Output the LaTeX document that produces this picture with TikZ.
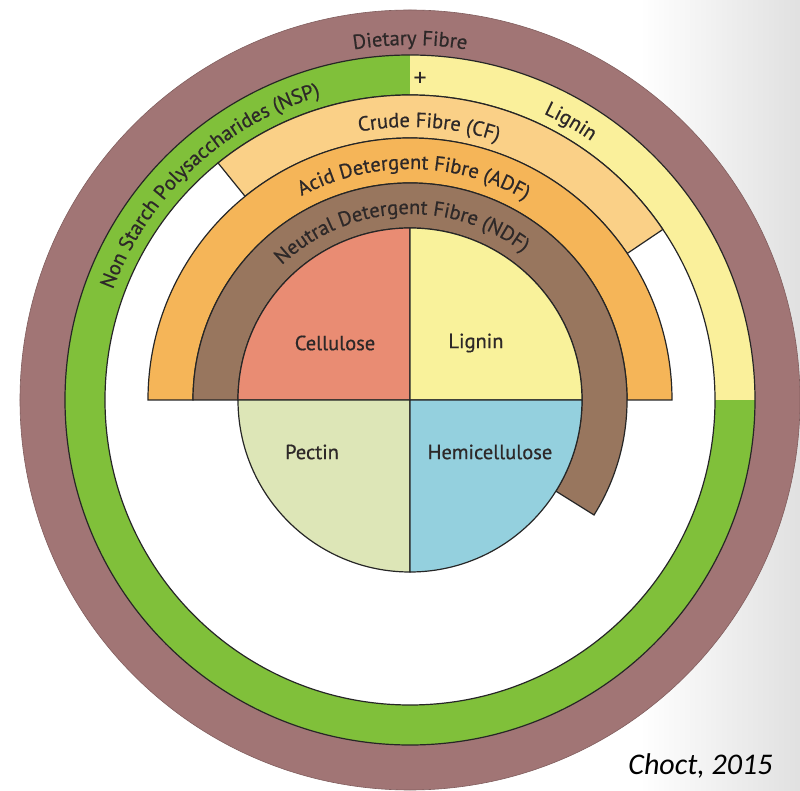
\documentclass[tikz,border=0pt]{standalone}
\usepackage{fontspec}
\setmainfont{PT Sans}
\newfontfamily\labfont{PT Sans}[RawFeature={embolden=0.6}]
\newfontfamily\citefont{Carlito}
\usetikzlibrary{decorations.text}
\definecolor{brownout}{RGB}{161,117,117}
\definecolor{nspgreen}{RGB}{128,192,58}
\definecolor{ligyel}{RGB}{250,240,155}
\definecolor{cfor}{RGB}{250,208,135}
\definecolor{adfor}{RGB}{245,181,88}
\definecolor{ndfbr}{RGB}{152,118,94}
\definecolor{cellc}{RGB}{233,140,115}
\definecolor{pectc}{RGB}{221,230,183}
\definecolor{hemic}{RGB}{148,208,222}
\definecolor{lignq}{RGB}{249,242,155}
\definecolor{txt}{RGB}{45,40,40}
\tikzset{
  edge/.style={draw=black!85, line width=1.2pt},
  lab/.style={text=txt, font=\labfont\fontsize{20.5}{24}\selectfont},
  arclab/.style={decorate, decoration={text along path, text align=center,
    text color=txt, text={|\labfont\fontsize{20.5}{24}\selectfont|#1}}}
}
\begin{document}
\begin{tikzpicture}[x=1pt,y=1pt]
\useasboundingbox (-410,-391) rectangle (390,400);
\fill[white] (-410,-391) rectangle (390,400);
\shade[left color=white, right color=black!12] (230,-391) rectangle (390,400);
% outer Dietary Fibre disk
\fill[brownout] (0,0) circle[radius=390pt];
\draw[brownout!80!black, line width=0.6pt] (0,0) circle[radius=390pt];
% NSP ring (green) and Lignin ring (yellow)
\fill[nspgreen] (90:345pt) arc[start angle=90, end angle=360, radius=345pt] -- (0:305pt) arc[start angle=360, end angle=90, radius=305pt] -- cycle;
\fill[ligyel] (0:345pt) arc[start angle=0, end angle=90, radius=345pt] -- (90:305pt) arc[start angle=90, end angle=0, radius=305pt] -- cycle;
\draw[edge] (0,0) circle[radius=345pt];
\draw[edge, fill=white] (0,0) circle[radius=305pt];
% Crude Fibre band
\draw[edge, fill=cfor] (34:305pt) arc[start angle=34, end angle=129, radius=305pt] -- (129:262pt) arc[start angle=129, end angle=34, radius=262pt] -- cycle;
% ADF band
\draw[edge, fill=adfor] (0:262pt) arc[start angle=0, end angle=180, radius=262pt] -- (180:217pt) arc[start angle=180, end angle=0, radius=217pt] -- cycle;
% NDF band
\draw[edge, fill=ndfbr] (-32:217pt) arc[start angle=-32, end angle=180, radius=217pt] -- (180:172pt) arc[start angle=180, end angle=-32, radius=172pt] -- cycle;
% inner quadrants
\draw[edge, fill=cellc] (0,0) -- (90:172pt) arc[start angle=90, end angle=180, radius=172pt] -- cycle;
\draw[edge, fill=lignq] (0,0) -- (0:172pt) arc[start angle=0, end angle=90, radius=172pt] -- cycle;
\draw[edge, fill=pectc] (0,0) -- (180:172pt) arc[start angle=180, end angle=270, radius=172pt] -- cycle;
\draw[edge, fill=hemic] (0,0) -- (270:172pt) arc[start angle=270, end angle=360, radius=172pt] -- cycle;
% quadrant labels
\node[lab] (cell) at (-75,57) {Cellulose};
\node[lab] (lign) at (66,57) {Lignin};
\node[lab] (pect) at (-98,-52) {Pectin};
\node[lab] (hemi) at (80,-52) {Hemicellulose};
% ring labels
\path[arclab={Dietary Fibre}] (130:355pt) arc[start angle=130, end angle=50, radius=355pt];
\path[arclab={Non Starch Polysaccharides (NSP)}] (180:317pt) arc[start angle=180, end angle=86, radius=317pt];
\path[arclab={Lignin}] (90:316pt) arc[start angle=90, end angle=30, radius=316pt];
\node[text=txt, font=\labfont\fontsize{25}{28}\selectfont] (plus) at (10,321) {+};
\path[arclab={Crude Fibre (CF)}] (146:273pt) arc[start angle=146, end angle=26, radius=273pt];
\path[arclab={Acid Detergent Fibre (ADF)}] (140:231pt) arc[start angle=140, end angle=38, radius=231pt];
\path[arclab={Neutral Detergent Fibre (NDF)}] (150:186pt) arc[start angle=150, end angle=36, radius=186pt];
% citation
\node[anchor=east, text=black, font=\citefont\itshape\fontsize{30}{34}\selectfont] (cite) at (366,-366) {Choct, 2015};
\end{tikzpicture}
\end{document}
